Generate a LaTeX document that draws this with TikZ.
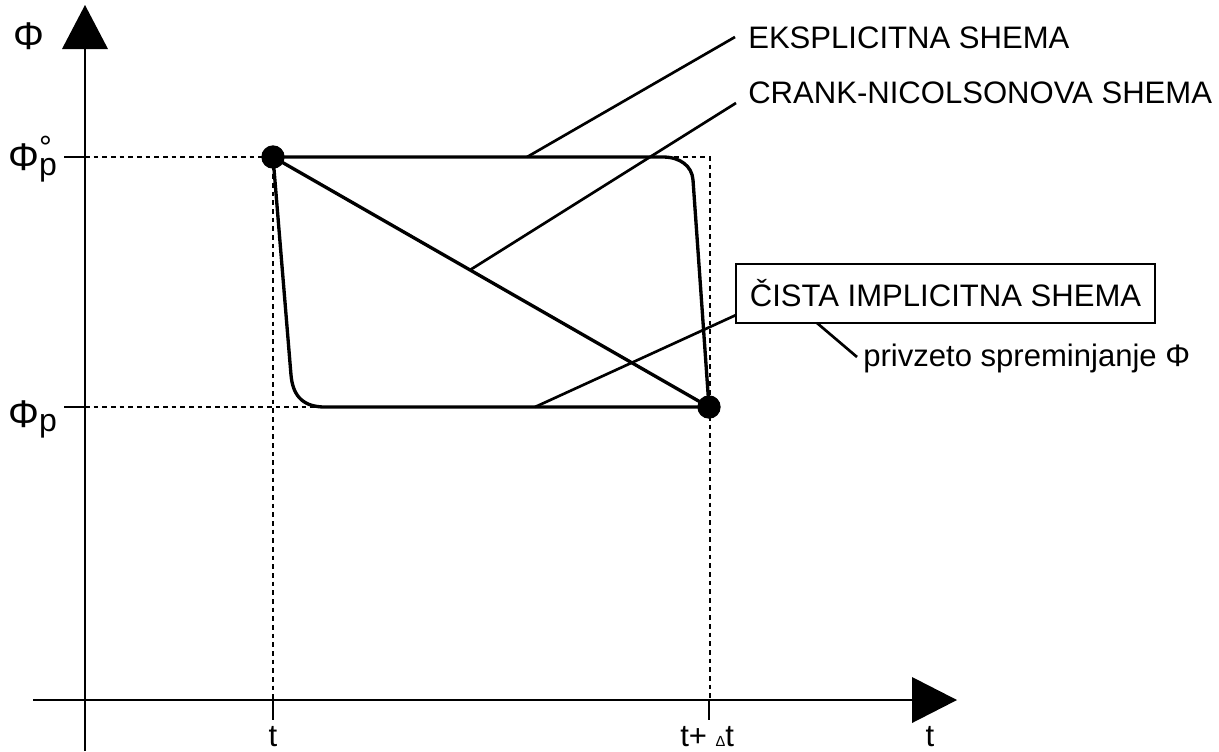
\documentclass[tikz,border=0pt]{standalone}
\usepackage{fontspec}
\setmainfont{Liberation Sans}
\begin{document}
\begin{tikzpicture}[x=0.75pt,y=-0.75pt,
  axis/.style={line width=1.9pt},
  guide/.style={line width=1.6pt, dash pattern=on 3.5pt off 3pt},
  curve/.style={line width=2.5pt, line join=round},
  leader/.style={line width=2pt},
  lbl/.style={inner sep=0pt, font=\fontsize{23.3}{23.3}\selectfont},
  biglbl/.style={inner sep=0pt, font=\fontsize{29}{29}\selectfont},
  dot/.style={circle, fill=black, inner sep=0pt, minimum size=17.5pt},
]
\useasboundingbox (0,0) rectangle (1219,751);

% axes
\coordinate (yb) at (85,751);
\coordinate (ytop) at (85,49);
\draw[axis] (yb) -- (ytop);
\fill (62,49) -- (108,49) -- (85,5) -- cycle;
\coordinate (xl) at (33,700);
\coordinate (xr) at (912,700);
\draw[axis] (xl) -- (xr);
\fill (912,677) -- (912,723) -- (957,700) -- cycle;

% ticks
\draw[axis] (64,157) -- (85,157);
\draw[axis] (64,407) -- (85,407);
\draw[axis] (273,700) -- (273,720);
\draw[axis] (709,700) -- (709,720);

% guides
\draw[guide] (85,157) -- (710,157) -- (710,700);
\draw[guide] (85,407) -- (710,407);
\draw[guide] (273,157) -- (273,700);

% points
\node[dot] (A) at (273,157) {};
\node[dot] (B) at (709,407) {};

% schemes
\draw[curve] (A.center) -- (663,157) .. controls (680,157) and (692,166) .. (693,180) -- (B.center);
\draw[curve] (A.center) -- (291,375) .. controls (293,398) and (305,407) .. (325,407) -- (B.center);
\draw[curve] (A.center) -- (B.center);

% labels with leaders
\node[lbl, anchor=base west] (eT) at (748,48) {EKSPLICITNA SHEMA};
\coordinate (eS) at (527,157);
\coordinate (eE) at (735,37);
\draw[leader] (eS) -- (eE);

\node[lbl, anchor=base west] (cT) at (748,103) {CRANK-NICOLSONOVA SHEMA};
\coordinate (cS) at (470,270);
\coordinate (cE) at (736,103);
\draw[leader] (cS) -- (cE);

\node[lbl, draw, line width=1.8pt, minimum width=314pt, minimum height=44pt] (box) at (945.5,293.5) {ČISTA IMPLICITNA SHEMA};
\coordinate (iS) at (535,407);
\coordinate (iE) at (736,315);
\draw[leader] (iS) -- (iE);

\coordinate (pS) at (817,323);
\coordinate (pE) at (857,357);
\draw[leader] (pS) -- (pE);
\node[lbl, anchor=base west] (pT) at (863,366) {privzeto spreminjanje Φ};

% axis labels
\node[biglbl] (phiAx) at (29,36) {Φ};
\node[biglbl, anchor=base west] (phipo) at (8,170) {Φ\rlap{\fontsize{24}{24}\selectfont\raisebox{8.5pt}{°}}{\fontsize{24}{24}\selectfont\raisebox{-4pt}{p}}};
\node[biglbl, anchor=base west] (phip) at (8,427) {Φ{\fontsize{24}{24}\selectfont\raisebox{-3.5pt}{p}}};

\node[lbl, anchor=base] (t1) at (273,746) {t};
\node[lbl, anchor=base west] (t2) at (680,746) {t+ {\fontsize{11}{11}\selectfont Δ}t};
\node[lbl, anchor=base] (t3) at (930,746) {t};
\end{tikzpicture}
\end{document}
